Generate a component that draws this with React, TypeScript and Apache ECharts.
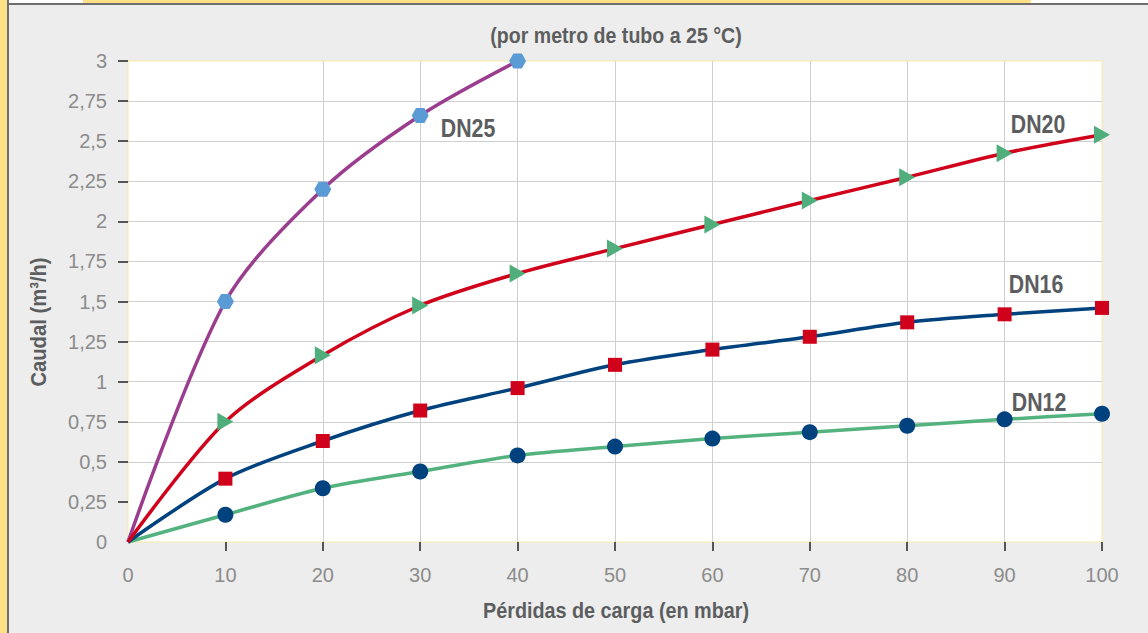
import React, { useEffect, useRef } from "react";
import * as echarts from "echarts";

// ---- data ----
const pressure = [0, 10, 20, 30, 40, 50, 60, 70, 80, 90, 100]; // mbar
const dn12 = [0, 0.17, 0.335, 0.44, 0.54, 0.595, 0.645, 0.685, 0.725, 0.765, 0.8];
const dn16 = [0, 0.395, 0.63, 0.82, 0.96, 1.105, 1.2, 1.28, 1.37, 1.42, 1.46];
const dn20 = [0, 0.75, 1.165, 1.475, 1.675, 1.83, 1.98, 2.13, 2.275, 2.425, 2.54];
const dn25 = [0, 1.5, 2.2, 2.66, 3.0];
const yTicks = [0.25, 0.5, 0.75, 1, 1.25, 1.5, 1.75, 2, 2.25, 2.5, 2.75, 3];
const xTicks = pressure.filter((p) => p > 0);

const title = "(por metro de tubo a 25 °C)";
const xName = "Pérdidas de carga (en mbar)";
const yName = "Caudal (m³/h)";

const BOLD = "'Liberation Sans', Arial, sans-serif";
const TXT = "#5c5d5f";

const hexagon = "path://M3,0L9,0L12,5.2L9,10.4L3,10.4L0,5.2Z";
const triRight = "path://M0,0L15.6,9L0,18Z";

function pts(vals: number[]) {
  return vals.map((v, i) => [pressure[i], v]);
}
const sz = (s: number | number[]) => (val: number[]) => (val[0] === 0 ? 0 : s);

export default function App() {
  const ref = useRef<HTMLDivElement>(null);
  useEffect(() => {
    document.body.style.margin = "0";
    const chart = echarts.init(ref.current!, null, { renderer: "svg" });
    const boldText = (
      text: string,
      x: number,
      y: number,
      size: number,
      scaleX: number,
      rotation = 0
    ) => ({
      type: "text",
      x,
      y,
      rotation,
      scaleX,
      style: {
        text,
        fill: TXT,
        font: `bold ${size}px ${BOLD}`,
        textAlign: "center",
        textVerticalAlign: "middle",
      },
    });
    chart.setOption({
      animation: false,
      backgroundColor: "#ecedec",
      grid: {
        left: 128,
        right: 46,
        top: 61,
        bottom: 91,
        show: true,
        backgroundColor: "#ffffff",
        borderColor: "#f8eaa8",
        borderWidth: 1,
      },
      xAxis: {
        type: "value",
        min: 0,
        max: 100,
        interval: 10,
        offset: 4,
        axisLine: { show: false },
        axisTick: {
          show: true,
          length: 9,
          customValues: xTicks,
          lineStyle: { color: "#555", width: 2 },
        },
        axisLabel: {
          margin: 19,
          color: "#8c8c8c",
          fontSize: 20,
          fontFamily: "'Liberation Sans', Arial, sans-serif",
        },
        splitLine: {
          show: true,
          showMinLine: false,
          showMaxLine: false,
          lineStyle: { color: "#cfcfcf", width: 1 },
        },
      },
      yAxis: {
        type: "value",
        min: 0,
        max: 3,
        interval: 0.25,
        offset: 2,
        axisLine: { show: false },
        axisTick: {
          show: true,
          length: 10,
          customValues: yTicks,
          lineStyle: { color: "#555", width: 2 },
        },
        axisLabel: {
          margin: 19,
          color: "#8c8c8c",
          fontSize: 20,
          fontFamily: "'Liberation Sans', Arial, sans-serif",
          formatter: (v: number) => String(v).replace(".", ","),
        },
        splitLine: {
          show: true,
          showMinLine: false,
          showMaxLine: false,
          lineStyle: { color: "#cfcfcf", width: 1 },
        },
      },
      graphic: [
        { type: "rect", shape: { x: 0, y: 0, width: 7, height: 633 }, style: { fill: "#fee086" }, silent: true },
        { type: "rect", shape: { x: 7, y: 0, width: 2, height: 633 }, style: { fill: "#6e6e6e" }, silent: true },
        { type: "rect", shape: { x: 9, y: 0, width: 1139, height: 3 }, style: { fill: "#ffffff" }, silent: true },
        { type: "rect", shape: { x: 83, y: 0, width: 948, height: 3 }, style: { fill: "#fee086" }, silent: true },
        { type: "rect", shape: { x: 7, y: 3, width: 1141, height: 2 }, style: { fill: "#6e6e6e" }, silent: true },
        boldText(title, 616, 35, 22, 0.89),
        boldText(xName, 616, 610, 22, 0.9),
        boldText(yName, 38, 322, 22, 0.92, Math.PI / 2),
        boldText("DN25", 468, 128, 26, 0.82),
        boldText("DN20", 1038, 124, 26, 0.82),
        boldText("DN16", 1036, 284, 26, 0.82),
        boldText("DN12", 1039, 402, 26, 0.82),
      ],
      series: [
        {
          type: "line",
          name: "DN12",
          data: pts(dn12),
          smooth: 0.3,
          clip: false,
          symbol: "circle",
          symbolSize: sz(16),
          lineStyle: { color: "#54b27f", width: 3.5 },
          itemStyle: { color: "#00427e" },
        },
        {
          type: "line",
          name: "DN16",
          data: pts(dn16),
          smooth: 0.3,
          clip: false,
          symbol: "rect",
          symbolSize: sz(14),
          lineStyle: { color: "#00427e", width: 3.5 },
          itemStyle: { color: "#d0021b" },
        },
        {
          type: "line",
          name: "DN25",
          data: pts(dn25),
          smooth: 0.3,
          clip: false,
          symbol: hexagon,
          symbolSize: sz([17, 15]),
          lineStyle: { color: "#9b3d8e", width: 3.5 },
          itemStyle: { color: "#5b9bd5" },
        },
        {
          type: "line",
          name: "DN20",
          data: pts(dn20),
          smooth: 0.3,
          clip: false,
          symbol: triRight,
          symbolSize: sz([16, 18]),
          lineStyle: { color: "#d0021b", width: 3.5 },
          itemStyle: { color: "#4fae7c" },
        },
      ],
    });
    return () => chart.dispose();
  }, []);
  return <div ref={ref} style={{ width: 1148, height: 633 }} />;
}
